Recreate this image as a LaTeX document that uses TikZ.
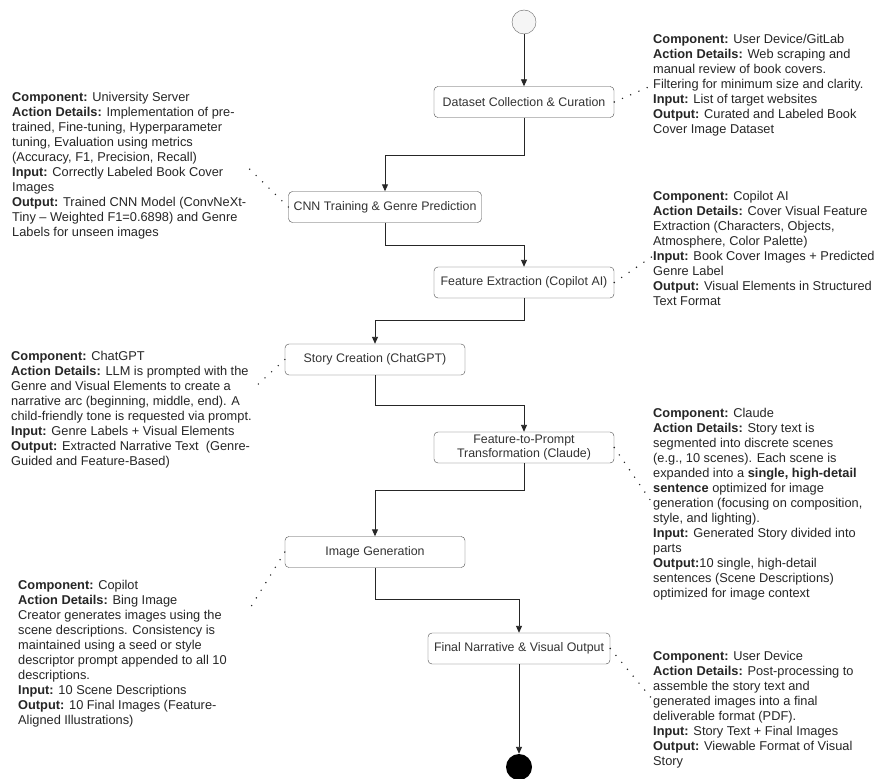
\documentclass[tikz,border=0pt]{standalone}
\usepackage{fontspec}
\setmainfont{Liberation Sans}
\usetikzlibrary{arrows.meta}
\newcommand{\StepBorderColor}{black!70}
\newcommand{\FlowColor}{black!85}
\newcommand{\NoteColor}{black!85}
\newcommand{\StartFillColor}{gray!8}

\begin{document}
\begin{tikzpicture}[
	% Define styles and settings
	x=1pt, y=-1pt,
	stepbox/.style={rectangle, draw=\StepBorderColor, fill=white, rounded corners=4pt, minimum width=180pt, minimum height=31pt, inner sep=2pt, align=center, text=black!80, font=\fontsize{12.4}{14}\selectfont},
	note/.style={anchor=west, align=left, inner sep=0pt, text=\NoteColor, font=\fontsize{12.8}{15}\selectfont},
	arrow/.style={-{Triangle[length=7pt,width=6pt]}, draw=\FlowColor, line width=0.9pt},
	link/.style={draw=\FlowColor, line width=1.6pt, line cap=round, dash pattern=on 0pt off 9pt}
	]
	% \draw[help lines] (0,0) grid (874,778);
	\path[fill=white] (0,0) rectangle (874,778);
	\useasboundingbox (0,0) rectangle (874,778);

	% start and end
	\node[circle, draw=black!60, fill=\StartFillColor, minimum size=24pt, inner sep=0pt] (start) at (524,22) {};
	\node[circle, fill=black, minimum size=26pt, inner sep=0pt] (stop) at (519,767) {};

	% process steps
	\node[stepbox] (dataset) at (524,102) {Dataset Collection \& Curation};
	\node[stepbox, minimum width=193pt] (cnn) at (385,207) {CNN Training \& Genre Prediction};
	\node[stepbox] (feature) at (524,282.5) {Feature Extraction (Copilot AI)};
	\node[stepbox] (story) at (375,359.5) {Story Creation (ChatGPT)};
	\node[stepbox] (prompt) at (524,447.5) {Feature-to-Prompt\\Transformation (Claude)};
	\node[stepbox] (imagegen) at (375,552) {Image Generation};
	\node[stepbox, minimum width=182pt] (final) at (519,648.5) {Final Narrative \& Visual Output};

	% notes
	\node[note] (noteData) at (653,85) {\textbf{Component:} User Device/GitLab\\
		\textbf{Action Details:} Web scraping and\\
		manual review of book covers.\\
		Filtering for minimum size and clarity.\\
		\textbf{Input:} List of target websites\\
		\textbf{Output:} Curated and Labeled Book\\
		Cover Image Dataset};
	\node[note] (noteCnn) at (12,166) {\textbf{Component:} University Server\\
		\textbf{Action Details:} Implementation of pre-\\
		trained, Fine-tuning, Hyperparameter\\
		tuning, Evaluation using metrics\\
		(Accuracy, F1, Precision, Recall)\\
		\textbf{Input:} Correctly Labeled Book Cover\\
		Images\\
		\textbf{Output:} Trained CNN Model (ConvNeXt-\\
		Tiny – Weighted F1=0.6898) and Genre\\
		Labels for unseen images};
	\node[note] (noteFeature) at (653,248) {\textbf{Component:} Copilot AI\\
		\textbf{Action Details:} Cover Visual Feature\\
		Extraction (Characters, Objects,\\
		Atmosphere, Color Palette)\\
		\textbf{Input:} Book Cover Images + Predicted\\
		Genre Label\\
		\textbf{Output:} Visual Elements in Structured\\
		Text Format};
	\node[note] (noteStory) at (11,410) {\textbf{Component:} ChatGPT\\
		\textbf{Action Details:} LLM is prompted with the\\
		Genre and Visual Elements to create a\\
		narrative arc (beginning, middle, end). A\\
		child-friendly tone is requested via prompt.\\
		\textbf{Input:} Genre Labels + Visual Elements\\
		\textbf{Output:} Extracted Narrative Text\ \ (Genre-\\
		Guided and Feature-Based)};
	\node[note] (notePrompt) at (653,504) {\textbf{Component:} Claude\\
		\textbf{Action Details:} Story text is\\
		segmented into discrete scenes\\
		(e.g., 10 scenes). Each scene is\\
		expanded into a \textbf{single, high-detail}\\
		\textbf{sentence} optimized for image\\
		generation (focusing on composition,\\
		style, and lighting).\\
		\textbf{Input:} Generated Story divided into\\
		parts\\
		\textbf{Output:}10 single, high-detail\\
		sentences (Scene Descriptions)\\
		optimized for image context};
	\node[note] (noteImage) at (18,654) {\textbf{Component:} Copilot\\
		\textbf{Action Details:} Bing Image\\
		Creator generates images using the\\
		scene descriptions. Consistency is\\
		maintained using a seed or style\\
		descriptor prompt appended to all 10\\
		descriptions.\\
		\textbf{Input:} 10 Scene Descriptions\\
		\textbf{Output:} 10 Final Images (Feature-\\
		Aligned Illustrations)};
	\node[note] (noteFinal) at (653,710) {\textbf{Component:} User Device\\
		\textbf{Action Details:} Post-processing to\\
		assemble the story text and\\
		generated images into a final\\
		deliverable format (PDF).\\
		\textbf{Input:} Story Text + Final Images\\
		\textbf{Output:} Viewable Format of Visual\\
		Story};

	% flow
	\draw[arrow] (start) -- (dataset);
	\draw[arrow] (dataset.south) -- ++(0pt,-38pt) -| (cnn.north);
	\draw[arrow] (cnn.south) -- ++(0pt,-23pt) -| (feature.north);
	\draw[arrow] (feature.south) -- ++(0pt,-22pt) -| (story.north);
	\draw[arrow] (story.south) -- ++(0pt,-30pt) -| (prompt.north);
	\draw[arrow] (prompt.south) -- ++(0pt,-27pt) -| (imagegen.north);
	\draw[arrow] (imagegen.south) -- ++(0pt,-32pt) -| (final.north);
	\draw[arrow] (final) -- (stop);

	% dotted links to the notes
	\draw[link] (dataset.east) -- (noteData.west);
	\draw[link] (cnn.west) -- (noteCnn.east);
	\draw[link] (feature.east) -- ([yshift=-8pt]noteFeature.west);
	\draw[link] (story.west) -- ([yshift=20pt]noteStory.east);
	\draw[link] (prompt.east) -- (notePrompt.west);
	\draw[link] (imagegen.west) -- ([shift={(22pt,44pt)}]noteImage.east);
	\draw[link] (final.east) -- ([yshift=10pt]noteFinal.west);

\end{tikzpicture}
\end{document}
